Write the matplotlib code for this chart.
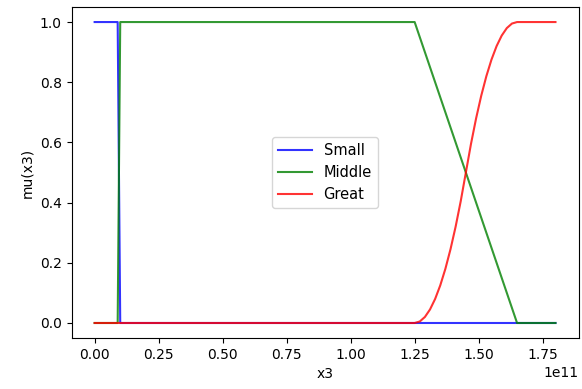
import numpy as np
import matplotlib
matplotlib.use('Agg')
from matplotlib import pyplot as plt

# membership functions (x in units of 1e11)
x_small = [0.0, 0.09, 0.10, 1.8]
mu_small = [1.0, 1.0, 0.0, 0.0]

x_middle = [0.0, 0.09, 0.10, 1.25, 1.65, 1.8]
mu_middle = [0.0, 0.0, 1.0, 1.0, 0.0, 0.0]

x_great = [0.0, 1.25, 1.27, 1.29, 1.31, 1.33, 1.35, 1.37, 1.39, 1.41, 1.43,
           1.45, 1.47, 1.49, 1.51, 1.53, 1.55, 1.57, 1.59, 1.61, 1.63, 1.65, 1.8]
mu_great = [0.0, 0.0, 0.005, 0.02, 0.045, 0.08, 0.125, 0.18, 0.245, 0.32, 0.405,
            0.5, 0.595, 0.68, 0.755, 0.82, 0.875, 0.92, 0.955, 0.98, 0.995, 1.0, 1.0]

scale = 1e11

fig, ax = plt.subplots(figsize=(5.82, 3.89), dpi=100)
fig.subplots_adjust(left=0.123, right=0.994, top=0.982, bottom=0.131)

ax.plot(np.array(x_small) * scale, mu_small, 'b', linewidth=1.5, alpha=0.8, label='Small')
ax.plot(np.array(x_middle) * scale, mu_middle, 'g', linewidth=1.5, alpha=0.8, label='Middle')
ax.plot(np.array(x_great) * scale, mu_great, 'r', linewidth=1.5, alpha=0.8, label='Great')

ax.set_xlabel('x3')
ax.set_ylabel('mu(x3)')
ax.legend(loc='center', fontsize=10.5, handlelength=2.3)

plt.savefig('out.png')
